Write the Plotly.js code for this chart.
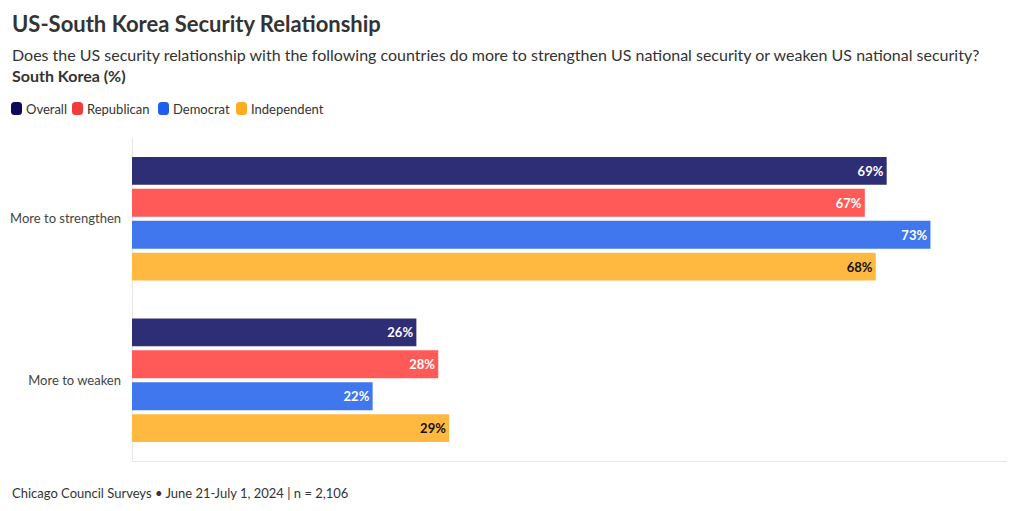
<!DOCTYPE html>
<html><head><meta charset="utf-8">
<script src="https://cdn.plot.ly/plotly-3.0.1.min.js"></script>
<style>body{margin:0;background:#fff}#chart{width:1020px;height:511px}</style>
</head><body><div id="chart"></div>
<script>
const categories = ["More to strengthen", "More to weaken"];
const seriesNames = ["Overall", "Republican", "Democrat", "Independent"];
const overall = [69, 26];
const republican = [67, 28];
const democrat = [73, 22];
const independent = [68, 29];
const colors = ["#2e2e76", "#ff5a58", "#4077ee", "#ffb941"];
const legendColors = ["#0b0b5a", "#f23c3c", "#1e5ded", "#fdad22"];
const textColors = ["#ffffff", "#ffffff", "#ffffff", "#111111"];
const values = [overall, republican, democrat, independent];
const FONT = "Lato, 'Source Sans Pro', 'Noto Sans', sans-serif";

const traces = values.map((v, i) => ({
  type: "bar", orientation: "h", name: seriesNames[i],
  y: categories, x: v,
  marker: {color: colors[i]},
  text: v.map(d => d + "%"),
  textposition: "inside", insidetextanchor: "end",
  textfont: {family: FONT, size: 13, color: textColors[i], weight: 700},
  hoverinfo: "skip", cliponaxis: false
}));

const L = 132, R = 13, T = 138, B = 50, W = 1020, H = 511;
const plotW = W - L - R, plotH = H - T - B;
function px(xp){return (xp - L)/plotW;}
function py(yp){return (H - B - yp)/plotH;}

const layout = {
  width: W, height: H,
  margin: {l: L, r: R, t: T, b: B},
  paper_bgcolor: "#fff", plot_bgcolor: "#fff",
  font: {family: FONT, color: "#333"},
  barmode: "group", bargap: 0.21, bargroupgap: 0.125,
  showlegend: false,
  xaxis: {range: [0, 80], showticklabels: false, showgrid: false, zeroline: true,
    zerolinecolor: "#e6e6e6", zerolinewidth: 1, showline: true, linecolor: "#e6e6e6", fixedrange: true},
  yaxis: {autorange: "reversed", showgrid: false, ticks: "", ticklabelstandoff: 10,
    tickfont: {size: 13, color: "#444", family: FONT}, showline: false},
  annotations: [],
  shapes: []
};

const texts = [
  ["<b>US-South Korea Security Relationship</b>", 10, 24, 22],
  ["Does the US security relationship with the following countries do more to strengthen US national security or weaken US national security?", 10, 54, 16],
  ["<b>South Korea (%)</b>", 10, 75, 16],
  ["Chicago Council Surveys • June 21-July 1, 2024 | n = 2,106", 10, 493, 13]
];
texts.forEach(t => layout.annotations.push({
  text: t[0], xref: "paper", yref: "paper", x: px(t[1]), y: py(t[2]),
  xanchor: "left", yanchor: "middle", showarrow: false,
  font: {size: t[3], color: "#333", family: FONT}
}));

// custom legend (compact, rounded swatches)
const legendX = [11, 72, 158, 236];
seriesNames.forEach((n, i) => {
  const x0 = legendX[i], x1 = x0 + 11, y0 = 102, y1 = 115, r = 3.5;
  const X = v => px(v), Y = v => py(v);
  const path = `M ${X(x0+r)} ${Y(y0)} L ${X(x1-r)} ${Y(y0)} Q ${X(x1)} ${Y(y0)} ${X(x1)} ${Y(y0+r)} ` +
    `L ${X(x1)} ${Y(y1-r)} Q ${X(x1)} ${Y(y1)} ${X(x1-r)} ${Y(y1)} L ${X(x0+r)} ${Y(y1)} ` +
    `Q ${X(x0)} ${Y(y1)} ${X(x0)} ${Y(y1-r)} L ${X(x0)} ${Y(y0+r)} Q ${X(x0)} ${Y(y0)} ${X(x0+r)} ${Y(y0)} Z`;
  layout.shapes.push({type: "path", xref: "paper", yref: "paper", path: path,
    fillcolor: legendColors[i], line: {width: 0}, layer: "above"});
  layout.annotations.push({text: n, xref: "paper", yref: "paper", x: px(x1 + 2), y: py(108.5),
    xanchor: "left", yanchor: "middle", showarrow: false,
    font: {size: 13, color: "#333", family: FONT}});
});

Plotly.newPlot("chart", traces, layout, {displayModeBar: false, staticPlot: true});
</script></body></html>
